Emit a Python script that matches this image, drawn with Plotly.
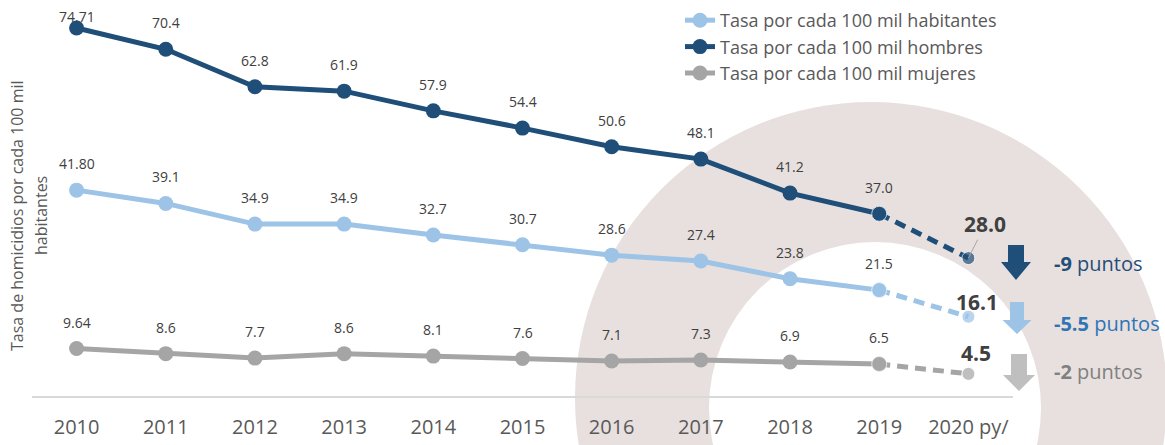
import plotly.graph_objects as go

# ---------------- data ----------------
years = ["2010", "2011", "2012", "2013", "2014", "2015", "2016", "2017", "2018", "2019", "2020 py/"]
habitantes = [41.80, 39.1, 34.9, 34.9, 32.7, 30.7, 28.6, 27.4, 23.8, 21.5, 16.1]
hombres = [74.71, 70.4, 62.8, 61.9, 57.9, 54.4, 50.6, 48.1, 41.2, 37.0, 28.0]
mujeres = [9.64, 8.6, 7.7, 8.6, 8.1, 7.6, 7.1, 7.3, 6.9, 6.5, 4.5]
cambios = ["-5.5", "-9", "-2"]  # habitantes, hombres, mujeres

names = ["Tasa por cada 100 mil habitantes", "Tasa por cada 100 mil hombres", "Tasa por cada 100 mil mujeres"]
colors = ["#9DC3E6", "#1F4E79", "#A5A5A5"]
arrow_colors = ["#9DC3E6", "#1F4E79", "#BFBFBF"]
change_colors = ["#2E75B6", "#1F4E79", "#808080"]

# ---------------- geometry helpers ----------------
W, H = 1165, 445
ML, MR, MT, MB = 32, 152, 2, 49
PL, PR, PT, PB = ML, W - MR, MT, H - MB
YMAX = 80.0
FONT = "Open Sans"


def px(x):
    return (x - PL) / (PR - PL)


def py(y):
    return (PB - y) / (PB - PT)


def ypix(v):
    return PB - v * (PB - PT) / YMAX


idx = list(range(len(years)))
series = [habitantes, hombres, mujeres]

fig = go.Figure()

for name, vals, col in zip(names, series, colors):
    fig.add_trace(go.Scatter(
        x=idx[:10], y=vals[:10], mode="lines+markers", name=name,
        line=dict(color=col, width=5), marker=dict(color=col, size=15),
        legendgroup=name, showlegend=True, hoverinfo="skip"))
for name, vals, col in zip(names, series, colors):
    fig.add_trace(go.Scatter(
        x=idx[9:], y=vals[9:], mode="lines+markers",
        line=dict(color=col, width=5, dash="11px,7px"),
        marker=dict(color=col, size=[15, 13]),
        legendgroup=name, showlegend=False, hoverinfo="skip"))

annotations = []
# small data labels
for vals in series:
    for i in range(10):
        v = vals[i]
        txt = f"{v:.2f}" if i == 0 else f"{v:.1f}"
        mp = ypix(v)
        center = max(17, mp - 26.5)
        annotations.append(dict(x=i, y=v, xref="x", yref="y", text=txt, showarrow=False,
                                yshift=mp - center, font=dict(family=FONT, size=14, color="#404040")))

# bold 2020 labels
big_font = dict(family=FONT, size=21, color="#404040")
annotations.append(dict(x=10, y=hombres[10], xref="x", yref="y", text=f"<b>{hombres[10]:.1f}</b>",
                        showarrow=True, arrowhead=0, arrowwidth=1, arrowcolor="#A6A6A6",
                        ax=17, ay=-34, standoff=0, font=big_font))
annotations.append(dict(x=10, y=habitantes[10], xref="x", yref="y", text=f"<b>{habitantes[10]:.1f}</b>",
                        showarrow=False, xshift=9, yshift=15, font=big_font))
annotations.append(dict(x=10, y=mujeres[10], xref="x", yref="y", text=f"<b>{mujeres[10]:.1f}</b>",
                        showarrow=False, xshift=7.5, yshift=20.5, font=big_font))

# change texts
change_y = [323, 263, 371]
for c, col, yy in zip(cambios, change_colors, change_y):
    annotations.append(dict(x=px(1052), y=py(yy), xref="paper", yref="paper", xanchor="left",
                            yanchor="middle", text=f"<b>{c}</b> puntos", showarrow=False,
                            font=dict(family=FONT, size=20, color=col)))

# y-axis title (two lines)
annotations.append(dict(x=px(17), y=py(216), xref="paper", yref="paper", textangle=-90,
                        xanchor="center", yanchor="middle",
                        text="Tasa de homicidios por cada 100 mil", showarrow=False,
                        font=dict(family=FONT, size=16, color="#595959")))
annotations.append(dict(x=px(41), y=py(216), xref="paper", yref="paper", textangle=-90,
                        xanchor="center", yanchor="middle",
                        text="habitantes", showarrow=False,
                        font=dict(family=FONT, size=16, color="#595959")))

shapes = []
# background ring
shapes.append(dict(type="circle", xref="paper", yref="paper", layer="below",
                   x0=px(575), x1=px(1167), y0=py(694), y1=py(102),
                   fillcolor="#E8E0DE", line=dict(width=0)))
shapes.append(dict(type="circle", xref="paper", yref="paper", layer="below",
                   x0=px(709), x1=px(1041), y0=py(574), y1=py(242),
                   fillcolor="#FFFFFF", line=dict(width=0)))


# block arrows
def arrow_path(cx, top, shaft_hw, shaft_bot, head_hw, tip):
    pts = [(cx - shaft_hw, top), (cx + shaft_hw, top), (cx + shaft_hw, shaft_bot),
           (cx + head_hw, shaft_bot), (cx, tip), (cx - head_hw, shaft_bot), (cx - shaft_hw, shaft_bot)]
    d = "M " + " L ".join(f"{px(a):.5f},{py(b):.5f}" for a, b in pts) + " Z"
    return d


arrow_geom = [(1017, 302, 7, 320, 14.5, 334), (1016, 245, 8, 262, 15, 280), (1019, 354, 8, 375, 16, 391)]
for g, col in zip(arrow_geom, arrow_colors):
    shapes.append(dict(type="path", xref="paper", yref="paper", path=arrow_path(*g),
                       fillcolor=col, line=dict(width=0)))

fig.update_layout(
    width=W, height=H,
    margin=dict(l=ML, r=MR, t=MT, b=MB),
    paper_bgcolor="white", plot_bgcolor="rgba(0,0,0,0)",
    font=dict(family=FONT, color="#595959"),
    showlegend=True,
    legend=dict(x=px(680), y=py(2), xanchor="left", yanchor="top",
                bgcolor="rgba(0,0,0,0)", font=dict(family=FONT, size=18, color="#595959"),
                tracegroupgap=0),
    xaxis=dict(range=[-0.5, 10.5], tickvals=idx, ticktext=years, showgrid=False, zeroline=False,
               showline=True, linecolor="#D9D9D9", linewidth=2, ticks="",
               tickfont=dict(family=FONT, size=20, color="#595959"), ticklabelstandoff=12,
               fixedrange=True),
    yaxis=dict(range=[0, YMAX], showgrid=False, zeroline=False, showline=False,
               showticklabels=False, fixedrange=True),
    annotations=annotations,
    shapes=shapes,
)

fig.write_html("out.html", config={"displayModeBar": False},
               post_script="document.body.style.margin='0px';")
